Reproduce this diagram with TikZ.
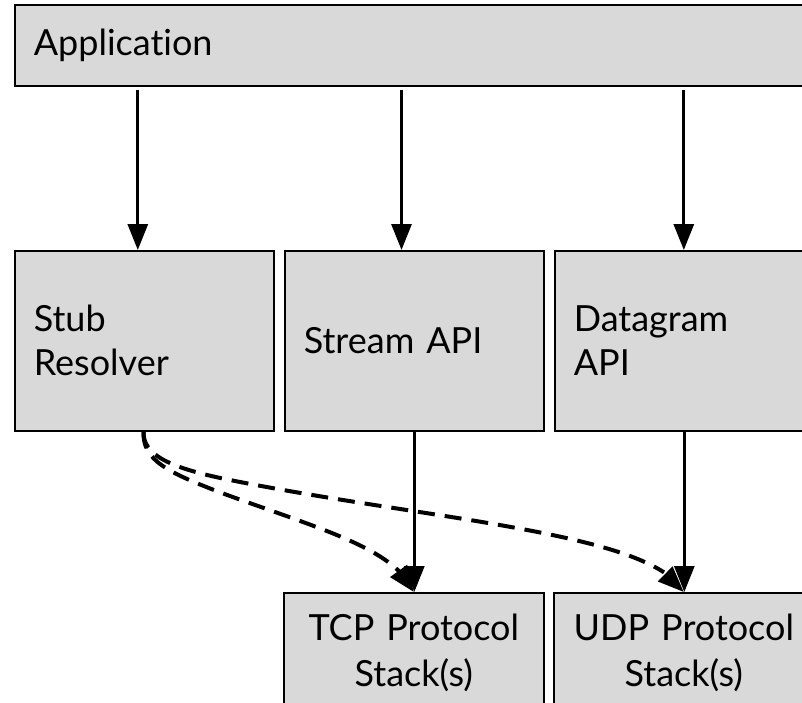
\documentclass[tikz,border=0pt]{standalone}
\usepackage{fontspec}
\setmainfont{Lato}[Ligatures=NoCommon]
\usetikzlibrary{arrows.meta,bending}
\definecolor{boxgray}{HTML}{D9D9D9}
\begin{document}
\begin{tikzpicture}[x=1pt,y=-1pt,
  box/.style={draw=black,line width=1.6pt,fill=boxgray,rectangle,inner ysep=0pt,inner xsep=19pt,
    anchor=north west,font=\fontsize{36}{44}\selectfont},
  lbox/.style={box,text width=221pt,align=left,minimum height=180pt},
  bbox/.style={box,text width=222pt,align=center,minimum height=120pt,font=\fontsize{36}{46}\selectfont},
  arr/.style={line width=3pt,-{Triangle[width=20pt,length=26pt]}},
  dsh/.style={line width=4pt,dash pattern=on 17pt off 10pt,-{Triangle[width=20pt,length=26pt]}}
]
\clip (0,0) rectangle (802,702);
\node[box,text width=762pt,align=left,minimum height=81pt] (app) at (14,4) {Application};
\node[lbox] (stub) at (14,250) {Stub\\Resolver};
\node[lbox] (stream) at (284,250) {Stream API};
\node[lbox] (dgram) at (554,250) {Datagram\\API};
\node[bbox] (tcp) at (283,592) {TCP Protocol\\Stack(s)};
\node[bbox] (udp) at (553,592) {UDP Protocol\\Stack(s)};
\coordinate (t1) at ([xshift=-6.5pt]stub.north);
\coordinate (t2) at ([xshift=-12.8pt]stream.north);
\coordinate (t3) at ([xshift=-0.5pt]dgram.north);
\coordinate (s0) at ([xshift=-0.8pt]stub.south);
\draw[arr,shorten <=3pt] (t1 |- app.south) -- (t1);
\draw[arr,shorten <=3pt] (t2 |- app.south) -- (t2);
\draw[arr,shorten <=3pt] (t3 |- app.south) -- (t3);
\draw[arr] (stream.south) -- (stream.south |- tcp.north);
\draw[arr] (dgram.south) -- (dgram.south |- udp.north);
\draw[dsh] (s0) .. controls (142.7,460) and (165,472) .. (230,496)
  .. controls (330,532) and (395,550) .. (tcp.north);
\draw[dsh] (s0) .. controls (142.7,455) and (170,468) .. (230,480)
  .. controls (430,520) and (650,532) .. (udp.north);
\end{tikzpicture}
\end{document}
